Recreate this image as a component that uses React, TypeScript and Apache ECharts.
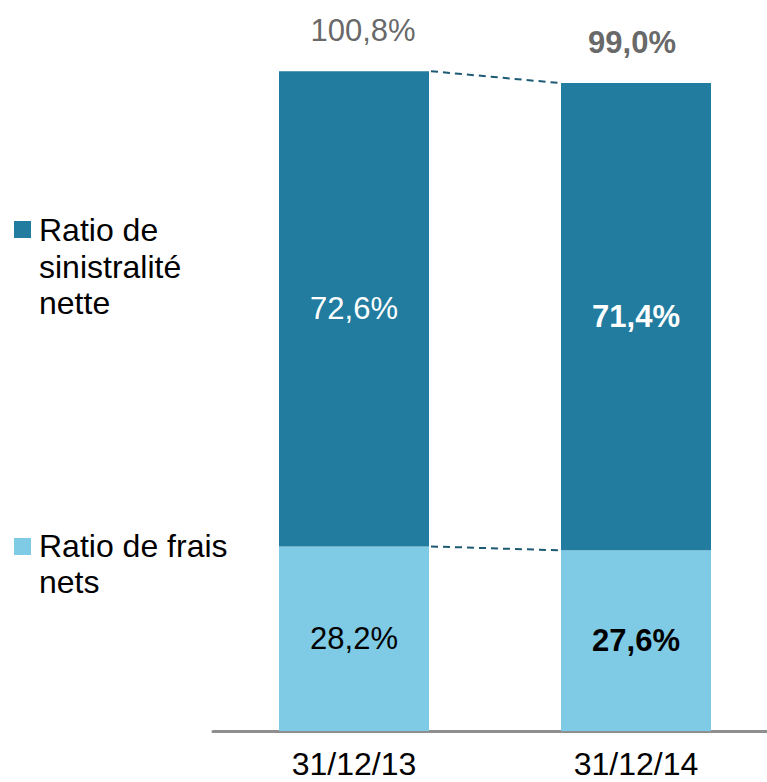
import React, { useEffect, useRef } from "react";
import * as echarts from "echarts";

const categories = ["31/12/13", "31/12/14"];
const fraisNets = [28.2, 27.6];
const sinistralite = [72.6, 71.4];
const totals = [100.8, 99.0];
const seriesNames = ["Ratio de\nsinistralité\nnette", "Ratio de frais\nnets"];

const DARK = "#217CA0";
const LIGHT = "#7FCAE5";
const FONT = "'Liberation Sans', Arial, sans-serif";
const BAR_W = 150;

const fmt = (v: number) => v.toFixed(1).replace(".", ",") + "%";

export default function App() {
  const ref = useRef<HTMLDivElement>(null);
  useEffect(() => {
    if (!ref.current) return;
    const chart = echarts.init(ref.current, null, { renderer: "svg" });
    const option: any = {
      animation: false,
      grid: { left: 213, top: 11, bottom: 51, width: 564, outerBoundsMode: "none" },
      xAxis: {
        type: "category",
        data: categories,
        boundaryGap: true,
        axisLine: { show: true, lineStyle: { color: "#8F8F8F", width: 3 } },
        axisTick: { show: false },
        axisLabel: { color: "#000", fontSize: 32, fontFamily: FONT, margin: 17 },
        splitLine: { show: false },
      },
      yAxis: { type: "value", min: 0, max: 110, show: false, splitLine: { show: false } },
      graphic: [
        { type: "rect", left: 14, top: 221, shape: { width: 17, height: 17 }, style: { fill: DARK } },
        {
          type: "text",
          x: 39,
          y: 211.75,
          style: {
            text: seriesNames[0],
            fontSize: 32,
            fontFamily: FONT,
            lineHeight: 36.5,
            fill: "#000",
            align: "left",
            verticalAlign: "top",
          },
        },
        { type: "rect", left: 14, top: 538, shape: { width: 17, height: 17 }, style: { fill: LIGHT } },
        {
          type: "text",
          x: 39,
          y: 528,
          style: {
            text: seriesNames[1],
            fontSize: 32,
            fontFamily: FONT,
            lineHeight: 36,
            fill: "#000",
            align: "left",
            verticalAlign: "top",
          },
        },
      ],
      series: [
        {
          name: "Ratio de frais nets",
          type: "bar",
          stack: "a",
          barWidth: BAR_W,
          itemStyle: { color: LIGHT },
          data: fraisNets.map((v, i) => ({
            value: v,
            label: { fontWeight: i === 1 ? "bold" : "normal" },
          })),
          label: {
            show: true,
            position: "inside",
            color: "#000",
            fontSize: 31,
            fontFamily: FONT,
            formatter: (p: any) => fmt(p.value),
          },
        },
        {
          name: "Ratio de sinistralité nette",
          type: "bar",
          stack: "a",
          barWidth: BAR_W,
          itemStyle: { color: DARK },
          data: sinistralite.map((v, i) => ({
            value: v,
            label: { fontWeight: i === 1 ? "bold" : "normal" },
          })),
          label: {
            show: true,
            position: "inside",
            color: "#fff",
            fontSize: 31,
            fontFamily: FONT,
            formatter: (p: any) => fmt(p.value),
          },
        },
        {
          name: "total",
          type: "scatter",
          symbolSize: 0,
          itemStyle: { color: "transparent" },
          data: totals.map((v, i) => ({
            value: [i, v],
            label: {
              fontWeight: i === 1 ? "bold" : "normal",
              offset: i === 0 ? [9, 0] : [-4, 0],
            },
          })),
          label: {
            show: true,
            position: "top",
            distance: 25,
            color: "#404040",
            fontSize: 31,
            fontFamily: FONT,
            formatter: (p: any) => fmt(p.value[1]),
          },
          z: 5,
        },
        {
          name: "connectors",
          type: "custom",
          coordinateSystem: "cartesian2d",
          encode: { x: 0, y: [1, 2] },
          data: [
            [0, totals[0], totals[1]],
            [0, fraisNets[0], fraisNets[1]],
          ],
          renderItem: (params: any, api: any) => {
            const p0 = api.coord([0, api.value(1)]);
            const p1 = api.coord([1, api.value(2)]);
            return {
              type: "line",
              shape: {
                x1: p0[0] + BAR_W / 2 + 2,
                y1: p0[1],
                x2: p1[0] - BAR_W / 2 - 2,
                y2: p1[1],
              },
              style: { stroke: "#1D5A73", lineWidth: 2, lineDash: [7, 5] },
            };
          },
          z: 4,
        },
      ],
    };
    chart.setOption(option);
    return () => chart.dispose();
  }, []);
  return (
    <div
      ref={ref}
      style={{ position: "fixed", left: 0, top: 0, width: 767, height: 782, background: "#fff" }}
    />
  );
}
